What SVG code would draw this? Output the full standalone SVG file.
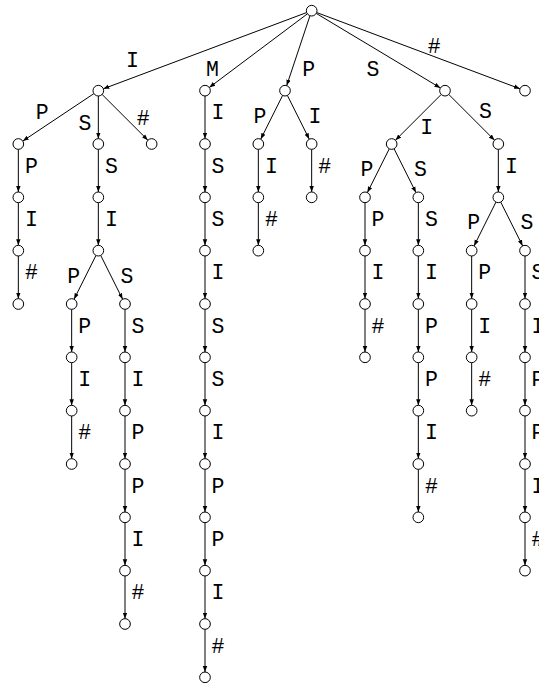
<svg xmlns="http://www.w3.org/2000/svg" width="539" height="683" viewBox="0 0 539 683">
<defs>
<style>
.n circle{fill:#fff;stroke:#000;stroke-width:1}
.e line{stroke:#000;stroke-width:1;marker-end:url(#ah)}
.l text{font-family:"Liberation Mono","DejaVu Sans Mono",monospace;font-size:21.5px;text-anchor:middle;fill:#000}
</style>
<marker id="ah" viewBox="0 0 10 10" refX="10" refY="5" markerWidth="6" markerHeight="6" orient="auto" markerUnits="userSpaceOnUse"><path d="M0,1.3 L10,5 L0,8.7 z" fill="#000"/></marker>
</defs>
<rect width="539" height="683" fill="#fff"/>
<g id="connectors" class="e">
<line x1="306.68" y1="12.54" x2="103.32" y2="88.80"/>
<line x1="307.40" y1="13.87" x2="209.27" y2="87.47"/>
<line x1="309.98" y1="15.73" x2="286.69" y2="85.61"/>
<line x1="316.24" y1="13.41" x2="440.43" y2="87.93"/>
<line x1="316.66" y1="12.54" x2="520.01" y2="88.80"/>
<line x1="93.89" y1="93.63" x2="22.77" y2="141.04"/>
<line x1="98.33" y1="96" x2="98.33" y2="138.67"/>
<line x1="102.10" y1="94.44" x2="147.90" y2="140.23"/>
<line x1="18.33" y1="149.33" x2="18.33" y2="192"/>
<line x1="18.33" y1="202.67" x2="18.33" y2="245.33"/>
<line x1="18.33" y1="256" x2="18.33" y2="298.67"/>
<line x1="98.33" y1="149.33" x2="98.33" y2="192"/>
<line x1="98.33" y1="202.67" x2="98.33" y2="245.33"/>
<line x1="95.95" y1="255.44" x2="74.05" y2="299.23"/>
<line x1="100.72" y1="255.44" x2="122.62" y2="299.23"/>
<line x1="71.67" y1="309.33" x2="71.67" y2="352"/>
<line x1="71.67" y1="362.67" x2="71.67" y2="405.33"/>
<line x1="71.67" y1="416" x2="71.67" y2="458.67"/>
<line x1="125" y1="309.33" x2="125" y2="352"/>
<line x1="125" y1="362.67" x2="125" y2="405.33"/>
<line x1="125" y1="416" x2="125" y2="458.67"/>
<line x1="125" y1="469.33" x2="125" y2="512"/>
<line x1="125" y1="522.67" x2="125" y2="565.33"/>
<line x1="125" y1="576" x2="125" y2="618.67"/>
<line x1="205" y1="96" x2="205" y2="138.67"/>
<line x1="205" y1="149.33" x2="205" y2="192"/>
<line x1="205" y1="202.67" x2="205" y2="245.33"/>
<line x1="205" y1="256" x2="205" y2="298.67"/>
<line x1="205" y1="309.33" x2="205" y2="352"/>
<line x1="205" y1="362.67" x2="205" y2="405.33"/>
<line x1="205" y1="416" x2="205" y2="458.67"/>
<line x1="205" y1="469.33" x2="205" y2="512"/>
<line x1="205" y1="522.67" x2="205" y2="565.33"/>
<line x1="205" y1="576" x2="205" y2="618.67"/>
<line x1="205" y1="629.33" x2="205" y2="672"/>
<line x1="282.62" y1="95.44" x2="260.72" y2="139.23"/>
<line x1="287.38" y1="95.44" x2="309.28" y2="139.23"/>
<line x1="258.33" y1="149.33" x2="258.33" y2="192"/>
<line x1="258.33" y1="202.67" x2="258.33" y2="245.33"/>
<line x1="311.67" y1="149.33" x2="311.67" y2="192"/>
<line x1="441.23" y1="94.44" x2="395.44" y2="140.23"/>
<line x1="448.77" y1="94.44" x2="494.56" y2="140.23"/>
<line x1="389.28" y1="148.77" x2="367.38" y2="192.56"/>
<line x1="394.05" y1="148.77" x2="415.95" y2="192.56"/>
<line x1="365" y1="202.67" x2="365" y2="245.33"/>
<line x1="365" y1="256" x2="365" y2="298.67"/>
<line x1="365" y1="309.33" x2="365" y2="352"/>
<line x1="418.33" y1="202.67" x2="418.33" y2="245.33"/>
<line x1="418.33" y1="256" x2="418.33" y2="298.67"/>
<line x1="418.33" y1="309.33" x2="418.33" y2="352"/>
<line x1="418.33" y1="362.67" x2="418.33" y2="405.33"/>
<line x1="418.33" y1="416" x2="418.33" y2="458.67"/>
<line x1="418.33" y1="469.33" x2="418.33" y2="512"/>
<line x1="498.33" y1="149.33" x2="498.33" y2="192"/>
<line x1="495.95" y1="202.10" x2="474.05" y2="245.90"/>
<line x1="500.72" y1="202.10" x2="522.62" y2="245.90"/>
<line x1="471.67" y1="256" x2="471.67" y2="298.67"/>
<line x1="471.67" y1="309.33" x2="471.67" y2="352"/>
<line x1="471.67" y1="362.67" x2="471.67" y2="405.33"/>
<line x1="525" y1="256" x2="525" y2="298.67"/>
<line x1="525" y1="309.33" x2="525" y2="352"/>
<line x1="525" y1="362.67" x2="525" y2="405.33"/>
<line x1="525" y1="416" x2="525" y2="458.67"/>
<line x1="525" y1="469.33" x2="525" y2="512"/>
<line x1="525" y1="522.67" x2="525" y2="565.33"/>
</g>
<g id="labels" class="l">
<text x="132.5" y="67">I</text>
<text x="212.5" y="75.8">M</text>
<text x="308.7" y="75.7">P</text>
<text x="373" y="75.7">S</text>
<text x="434.2" y="53.2">#</text>
<text x="42.2" y="118.7">P</text>
<text x="85" y="129.5">S</text>
<text x="143.3" y="124.5">#</text>
<text x="31.33" y="172.67">P</text>
<text x="31.33" y="226">I</text>
<text x="31.33" y="279.33">#</text>
<text x="111.33" y="172.67">S</text>
<text x="111.33" y="226">I</text>
<text x="73.7" y="282.7">P</text>
<text x="127" y="282.7">S</text>
<text x="84.67" y="332.67">P</text>
<text x="84.67" y="386">I</text>
<text x="84.67" y="439.33">#</text>
<text x="138" y="332.67">S</text>
<text x="138" y="386">I</text>
<text x="138" y="439.33">P</text>
<text x="138" y="492.67">P</text>
<text x="138" y="546">I</text>
<text x="138" y="599.33">#</text>
<text x="218" y="119.33">I</text>
<text x="218" y="172.67">S</text>
<text x="218" y="226">S</text>
<text x="218" y="279.33">I</text>
<text x="218" y="332.67">S</text>
<text x="218" y="386">S</text>
<text x="218" y="439.33">I</text>
<text x="218" y="492.67">P</text>
<text x="218" y="546">P</text>
<text x="218" y="599.33">I</text>
<text x="218" y="652.67">#</text>
<text x="260" y="122.8">P</text>
<text x="315" y="122.5">I</text>
<text x="271.33" y="172.67">I</text>
<text x="271.33" y="226">#</text>
<text x="324.67" y="172.67">#</text>
<text x="426.7" y="133.7">I</text>
<text x="485.5" y="118">S</text>
<text x="367" y="176">P</text>
<text x="420.4" y="176">S</text>
<text x="378" y="226">P</text>
<text x="378" y="279.33">I</text>
<text x="378" y="332.67">#</text>
<text x="431.33" y="226">S</text>
<text x="431.33" y="279.33">I</text>
<text x="431.33" y="332.67">P</text>
<text x="431.33" y="386">P</text>
<text x="431.33" y="439.33">I</text>
<text x="431.33" y="492.67">#</text>
<text x="511.33" y="172.67">I</text>
<text x="473.7" y="229.3">P</text>
<text x="527" y="229.3">S</text>
<text x="484.67" y="279.33">P</text>
<text x="484.67" y="332.67">I</text>
<text x="484.67" y="386">#</text>
<text x="538" y="279.33">S</text>
<text x="538" y="332.67">I</text>
<text x="538" y="386">P</text>
<text x="538" y="439.33">P</text>
<text x="538" y="492.67">I</text>
<text x="538" y="546">#</text>
</g>
<g id="n-root" class="n"><circle cx="311.67" cy="10.67" r="5.33"/></g>
<g id="n-I" class="n"><circle cx="98.33" cy="90.67" r="5.33"/></g>
<g id="n-IP" class="n"><circle cx="18.33" cy="144" r="5.33"/></g>
<g id="n-IPP" class="n"><circle cx="18.33" cy="197.33" r="5.33"/></g>
<g id="n-IPPI" class="n"><circle cx="18.33" cy="250.67" r="5.33"/></g>
<g id="n-IPPIh" class="n"><circle cx="18.33" cy="304" r="5.33"/></g>
<g id="n-IS" class="n"><circle cx="98.33" cy="144" r="5.33"/></g>
<g id="n-ISS" class="n"><circle cx="98.33" cy="197.33" r="5.33"/></g>
<g id="n-ISSI" class="n"><circle cx="98.33" cy="250.67" r="5.33"/></g>
<g id="n-ISSIP" class="n"><circle cx="71.67" cy="304" r="5.33"/></g>
<g id="n-ISSIPP" class="n"><circle cx="71.67" cy="357.33" r="5.33"/></g>
<g id="n-ISSIPPI" class="n"><circle cx="71.67" cy="410.67" r="5.33"/></g>
<g id="n-ISSIPPIh" class="n"><circle cx="71.67" cy="464" r="5.33"/></g>
<g id="n-ISSIS" class="n"><circle cx="125" cy="304" r="5.33"/></g>
<g id="n-ISSISS" class="n"><circle cx="125" cy="357.33" r="5.33"/></g>
<g id="n-ISSISSI" class="n"><circle cx="125" cy="410.67" r="5.33"/></g>
<g id="n-ISSISSIP" class="n"><circle cx="125" cy="464" r="5.33"/></g>
<g id="n-ISSISSIPP" class="n"><circle cx="125" cy="517.33" r="5.33"/></g>
<g id="n-ISSISSIPPI" class="n"><circle cx="125" cy="570.67" r="5.33"/></g>
<g id="n-ISSISSIPPIh" class="n"><circle cx="125" cy="624" r="5.33"/></g>
<g id="n-Ih" class="n"><circle cx="151.67" cy="144" r="5.33"/></g>
<g id="n-M" class="n"><circle cx="205" cy="90.67" r="5.33"/></g>
<g id="n-MI" class="n"><circle cx="205" cy="144" r="5.33"/></g>
<g id="n-MIS" class="n"><circle cx="205" cy="197.33" r="5.33"/></g>
<g id="n-MISS" class="n"><circle cx="205" cy="250.67" r="5.33"/></g>
<g id="n-MISSI" class="n"><circle cx="205" cy="304" r="5.33"/></g>
<g id="n-MISSIS" class="n"><circle cx="205" cy="357.33" r="5.33"/></g>
<g id="n-MISSISS" class="n"><circle cx="205" cy="410.67" r="5.33"/></g>
<g id="n-MISSISSI" class="n"><circle cx="205" cy="464" r="5.33"/></g>
<g id="n-MISSISSIP" class="n"><circle cx="205" cy="517.33" r="5.33"/></g>
<g id="n-MISSISSIPP" class="n"><circle cx="205" cy="570.67" r="5.33"/></g>
<g id="n-MISSISSIPPI" class="n"><circle cx="205" cy="624" r="5.33"/></g>
<g id="n-MISSISSIPPIh" class="n"><circle cx="205" cy="677.33" r="5.33"/></g>
<g id="n-P" class="n"><circle cx="285" cy="90.67" r="5.33"/></g>
<g id="n-PP" class="n"><circle cx="258.33" cy="144" r="5.33"/></g>
<g id="n-PPI" class="n"><circle cx="258.33" cy="197.33" r="5.33"/></g>
<g id="n-PPIh" class="n"><circle cx="258.33" cy="250.67" r="5.33"/></g>
<g id="n-PI" class="n"><circle cx="311.67" cy="144" r="5.33"/></g>
<g id="n-PIh" class="n"><circle cx="311.67" cy="197.33" r="5.33"/></g>
<g id="n-S" class="n"><circle cx="445" cy="90.67" r="5.33"/></g>
<g id="n-SI" class="n"><circle cx="391.67" cy="144" r="5.33"/></g>
<g id="n-SIP" class="n"><circle cx="365" cy="197.33" r="5.33"/></g>
<g id="n-SIPP" class="n"><circle cx="365" cy="250.67" r="5.33"/></g>
<g id="n-SIPPI" class="n"><circle cx="365" cy="304" r="5.33"/></g>
<g id="n-SIPPIh" class="n"><circle cx="365" cy="357.33" r="5.33"/></g>
<g id="n-SIS" class="n"><circle cx="418.33" cy="197.33" r="5.33"/></g>
<g id="n-SISS" class="n"><circle cx="418.33" cy="250.67" r="5.33"/></g>
<g id="n-SISSI" class="n"><circle cx="418.33" cy="304" r="5.33"/></g>
<g id="n-SISSIP" class="n"><circle cx="418.33" cy="357.33" r="5.33"/></g>
<g id="n-SISSIPP" class="n"><circle cx="418.33" cy="410.67" r="5.33"/></g>
<g id="n-SISSIPPI" class="n"><circle cx="418.33" cy="464" r="5.33"/></g>
<g id="n-SISSIPPIh" class="n"><circle cx="418.33" cy="517.33" r="5.33"/></g>
<g id="n-SS" class="n"><circle cx="498.33" cy="144" r="5.33"/></g>
<g id="n-SSI" class="n"><circle cx="498.33" cy="197.33" r="5.33"/></g>
<g id="n-SSIP" class="n"><circle cx="471.67" cy="250.67" r="5.33"/></g>
<g id="n-SSIPP" class="n"><circle cx="471.67" cy="304" r="5.33"/></g>
<g id="n-SSIPPI" class="n"><circle cx="471.67" cy="357.33" r="5.33"/></g>
<g id="n-SSIPPIh" class="n"><circle cx="471.67" cy="410.67" r="5.33"/></g>
<g id="n-SSIS" class="n"><circle cx="525" cy="250.67" r="5.33"/></g>
<g id="n-SSISS" class="n"><circle cx="525" cy="304" r="5.33"/></g>
<g id="n-SSISSI" class="n"><circle cx="525" cy="357.33" r="5.33"/></g>
<g id="n-SSISSIP" class="n"><circle cx="525" cy="410.67" r="5.33"/></g>
<g id="n-SSISSIPP" class="n"><circle cx="525" cy="464" r="5.33"/></g>
<g id="n-SSISSIPPI" class="n"><circle cx="525" cy="517.33" r="5.33"/></g>
<g id="n-SSISSIPPIh" class="n"><circle cx="525" cy="570.67" r="5.33"/></g>
<g id="n-h" class="n"><circle cx="525" cy="90.67" r="5.33"/></g>
</svg>
